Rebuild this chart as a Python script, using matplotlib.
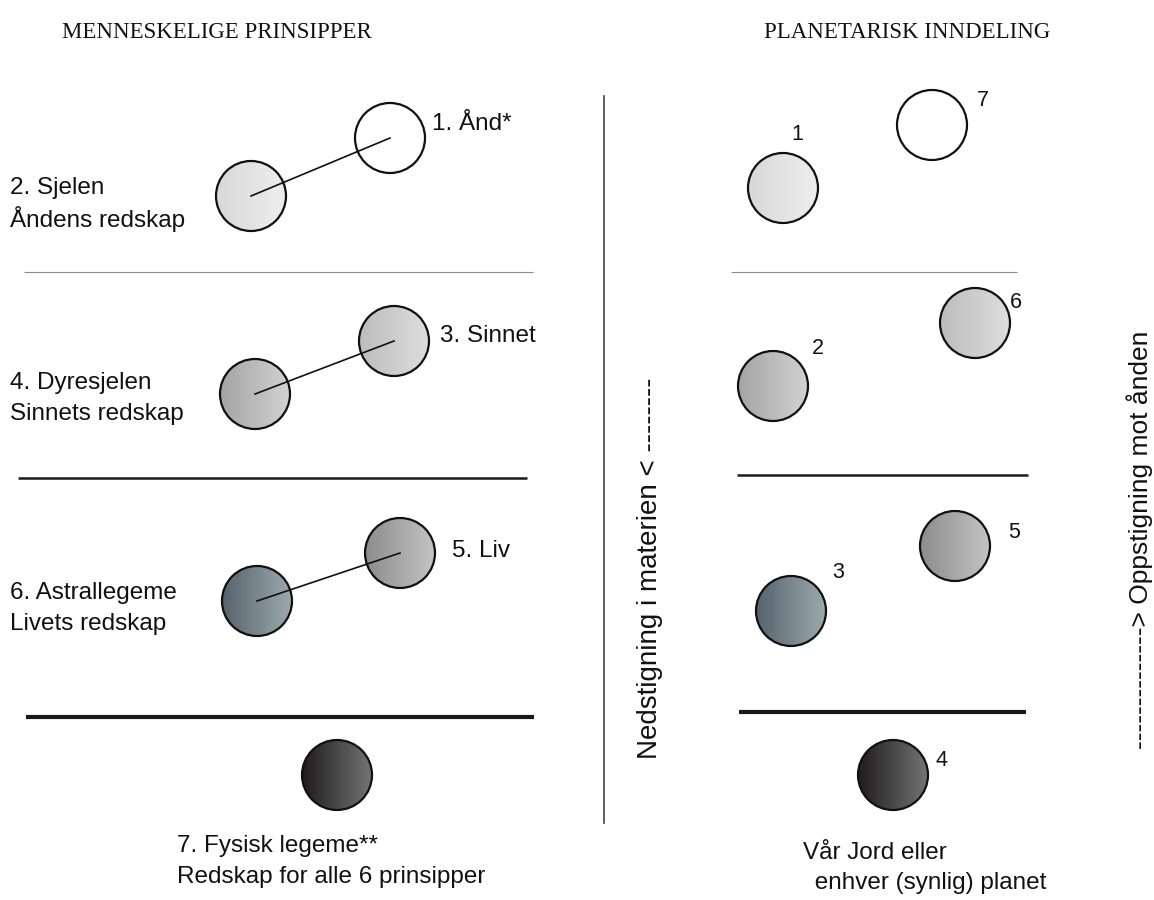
import numpy as np
import matplotlib
matplotlib.use("Agg")
import matplotlib.pyplot as plt
from matplotlib.patches import Circle
from matplotlib.colors import LinearSegmentedColormap

# ---- data ----
titles = ["MENNESKELIGE PRINSIPPER", "PLANETARISK INNDELING"]
title_x = [217, 907]

# shade name -> (left colour, right colour)
shades = {
    "white": ("#ffffff", "#ffffff"),
    "pale": ("#d8d8d8", "#eeeeee"),
    "light": ("#bcbcbc", "#dedede"),
    "mid": ("#a4a4a4", "#d2d2d2"),
    "liv": ("#8c8c8c", "#c4c4c4"),
    "astral": ("#56626c", "#9caab0"),
    "phys": ("#1e1c1c", "#747474"),
}

# left column circles (human principles)
left_x = [390, 251, 394, 255, 400, 257, 337]
left_y = [138, 196, 341, 394, 553, 601, 775]
left_shade = ["white", "pale", "light", "mid", "liv", "astral", "phys"]
pairs = [(0, 1), (2, 3), (4, 5)]

# right column circles (planetary division)
right_x = [783, 932, 975, 773, 955, 791, 893]
right_y = [188, 125, 323, 386, 546, 611, 775]
right_shade = ["pale", "white", "light", "mid", "liv", "astral", "phys"]
right_labels = ["1", "7", "6", "2", "5", "3", "4"]
right_label_x = [797, 983, 1016, 818, 1014, 838, 942]
right_label_y = [134, 101, 302, 348, 532, 572, 760]

radius = 35

left_texts = [
    (432, 124, "1. Ånd*"),
    (10, 188, "2. Sjelen"),
    (10, 219, "Åndens redskap"),
    (440, 336, "3. Sinnet"),
    (10, 383, "4. Dyresjelen"),
    (10, 414, "Sinnets redskap"),
    (452, 551, "5. Liv"),
    (10, 593, "6. Astrallegeme"),
    (10, 624, "Livets redskap"),
    (177, 846, "7. Fysisk legeme**"),
    (177, 877, "Redskap for alle 6 prinsipper"),
    (803, 853, "Vår Jord eller"),
    (808, 883, " enhver (synlig) planet"),
]

# horizontal separators: (x0, x1, y, width, colour)
separators = [
    (24, 533, 272, 0.8, "#8a8a8a"),
    (18, 527, 478, 1.8, "#1a1a1a"),
    (26, 534, 717, 3.0, "#1a1a1a"),
    (731, 1017, 272, 0.8, "#8a8a8a"),
    (737, 1028, 475, 1.8, "#1a1a1a"),
    (739, 1026, 712, 3.0, "#1a1a1a"),
]

descent_text = "Nedstigning i materien < --------"
ascent_text = "--------------> Oppstigning mot ånden"

W, H = 1154, 900
fig = plt.figure(figsize=(W / 100, H / 100), dpi=100)
ax = fig.add_axes([0, 0, 1, 1])
ax.set_xlim(0, W)
ax.set_ylim(H, 0)
ax.axis("off")

sans = ["Liberation Sans", "DejaVu Sans"]
serif = ["Liberation Serif", "DejaVu Serif"]


def draw_ball(cx, cy, shade):
    c0, c1 = shades[shade]
    cmap = LinearSegmentedColormap.from_list("g", [c0, c1])
    grad = np.linspace(0, 1, 256).reshape(1, -1)
    im = ax.imshow(grad, cmap=cmap, extent=(cx - radius, cx + radius, cy + radius, cy - radius),
                   aspect="auto", zorder=2, interpolation="bilinear")
    clip = Circle((cx, cy), radius, transform=ax.transData, facecolor="none", edgecolor="none")
    ax.add_patch(clip)
    im.set_clip_path(clip)
    ax.add_patch(Circle((cx, cy), radius, facecolor="none", edgecolor="#111111", lw=1.6, zorder=3))


for i, j in pairs:
    ax.plot([left_x[i], left_x[j]], [left_y[i], left_y[j]], color="#111111", lw=1.2, zorder=4)

for cx, cy, s in zip(left_x, left_y, left_shade):
    draw_ball(cx, cy, s)
for cx, cy, s in zip(right_x, right_y, right_shade):
    draw_ball(cx, cy, s)

for lx, ly, t in zip(right_label_x, right_label_y, right_labels):
    ax.text(lx, ly, t, fontsize=15.5, family=sans, ha="center", va="center", color="#111111")

for x, y, t in left_texts:
    ax.text(x, y, t, fontsize=17.5, family=sans, ha="left", va="center", color="#111111")

for x0, x1, y, lw, col in separators:
    ax.plot([x0, x1], [y, y], color=col, lw=lw, solid_capstyle="butt")

ax.plot([604, 604], [96, 823], color="#444444", lw=1.2)

for t, x in zip(titles, title_x):
    ax.text(x, 33, t, fontsize=16.5, family=serif, ha="center", va="center", color="#111111")

ax.text(650, 568, descent_text, rotation=90, fontsize=20, family=sans,
        ha="center", va="center", color="#111111")
ax.text(1140, 540, ascent_text, rotation=90, fontsize=19, family=sans,
        ha="center", va="center", color="#111111")

fig.savefig("out.png", dpi=100)
